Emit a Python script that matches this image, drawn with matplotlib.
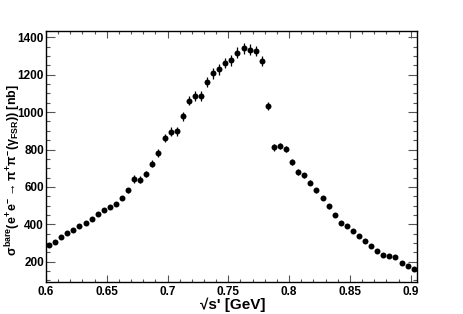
import matplotlib
matplotlib.use("Agg")
import matplotlib.pyplot as plt
import numpy as np
from matplotlib.ticker import MultipleLocator, FixedLocator

plt.rcParams['font.family'] = ['Liberation Sans', 'DejaVu Sans']
plt.rcParams['font.weight'] = 'bold'
plt.rcParams['mathtext.fontset'] = 'custom'
plt.rcParams['mathtext.rm'] = 'Liberation Sans:bold'
plt.rcParams['mathtext.it'] = 'Liberation Sans:bold'
plt.rcParams['mathtext.bf'] = 'Liberation Sans:bold'
plt.rcParams['mathtext.sf'] = 'Liberation Sans:bold'

# bin centres of sqrt(s') [GeV]
sqrt_s = [0.6025, 0.6075, 0.6125, 0.6175, 0.6225, 0.6275, 0.6325, 0.6375, 0.6425, 0.6475,
          0.6525, 0.6575, 0.6625, 0.6675, 0.6725, 0.6775, 0.6825, 0.6875, 0.6925, 0.6975,
          0.7025, 0.7075, 0.7125, 0.7175, 0.7225, 0.7275, 0.7325, 0.7375, 0.7425, 0.7475,
          0.7525, 0.7575, 0.7625, 0.7675, 0.7725, 0.7775, 0.7825, 0.7875, 0.7925, 0.7975,
          0.8025, 0.8075, 0.8125, 0.8175, 0.8225, 0.8275, 0.8325, 0.8375, 0.8425, 0.8475,
          0.8525, 0.8575, 0.8625, 0.8675, 0.8725, 0.8775, 0.8825, 0.8875, 0.8925, 0.8975,
          0.9025]
# cross section [nb]
sigma = [289, 307, 332, 352, 368, 391, 407, 427, 455, 476,
         494, 509, 542, 583, 642, 639, 669, 724, 783, 860,
         895, 897, 979, 1061, 1086, 1088, 1159, 1207, 1229, 1264,
         1277, 1318, 1341, 1334, 1328, 1273, 1033, 812, 819, 803,
         733, 681, 662, 622, 583, 541, 496, 450, 405, 391,
         362, 339, 309, 282, 256, 236, 229, 225, 195, 179,
         161]
sigma_err = [8, 8, 8, 9, 9, 9, 10, 10, 11, 11,
             11, 12, 12, 13, 20, 20, 18, 20, 22, 22,
             24, 24, 24, 25, 26, 26, 27, 28, 28, 28,
             28, 28, 28, 28, 28, 26, 22, 18, 18, 17,
             16, 15, 15, 14, 13, 12, 12, 11, 10, 10,
             10, 9, 9, 8, 8, 8, 8, 8, 7, 7,
             7]

x_ticks = [0.6, 0.65, 0.7, 0.75, 0.8, 0.85, 0.9]
x_tick_labels = ['0.6', '0.65', '0.7', '0.75', '0.8', '0.85', '0.9']
y_ticks = [200, 400, 600, 800, 1000, 1200, 1400]

W, H = 463, 314
fig = plt.figure(figsize=(W / 100, H / 100), dpi=100)
ax = fig.add_axes([46 / W, 1 - 281.7 / H, (417 - 46) / W, (281.7 - 31) / H])

ax.errorbar(sqrt_s, sigma, yerr=sigma_err, fmt='o', color='black',
            markersize=4.3, elinewidth=0.9, capsize=0, markeredgewidth=0)

ax.set_xlim(0.6, 0.9052)
ax.set_ylim(93, 1434)

ax.xaxis.set_major_locator(FixedLocator(x_ticks))
ax.set_xticklabels(x_tick_labels)
ax.xaxis.set_minor_locator(MultipleLocator(0.01))
ax.yaxis.set_major_locator(FixedLocator(y_ticks))
ax.yaxis.set_minor_locator(MultipleLocator(50))

ax.tick_params(axis='both', which='both', direction='in', top=True, right=True,
               color='#555555', labelsize=8.5, width=0.8)
ax.tick_params(axis='x', which='major', length=4.7, pad=3)
ax.tick_params(axis='x', which='minor', length=2.4)
ax.tick_params(axis='y', which='major', length=6.5, pad=1.5)
ax.tick_params(axis='y', which='minor', length=3.2)
for lab in ax.get_xticklabels() + ax.get_yticklabels():
    lab.set_fontweight('bold')
for s in ax.spines.values():
    s.set_linewidth(1.0)
    s.set_color('black')

fig.text(233 / W, 1 - 305 / H, "\u221As' [GeV]", ha='center', va='center',
         fontsize=11, fontweight='bold')
fig.text(13 / W, 1 - 170 / H,
         r"$\sigma^{bare}(e^{+}e^{-}\rightarrow\pi^{+}\pi^{-}(\gamma_{FSR}))$ [nb]",
         ha='center', va='center', rotation=90, fontsize=9, fontweight='bold')

fig.savefig('out.png', dpi=100)
